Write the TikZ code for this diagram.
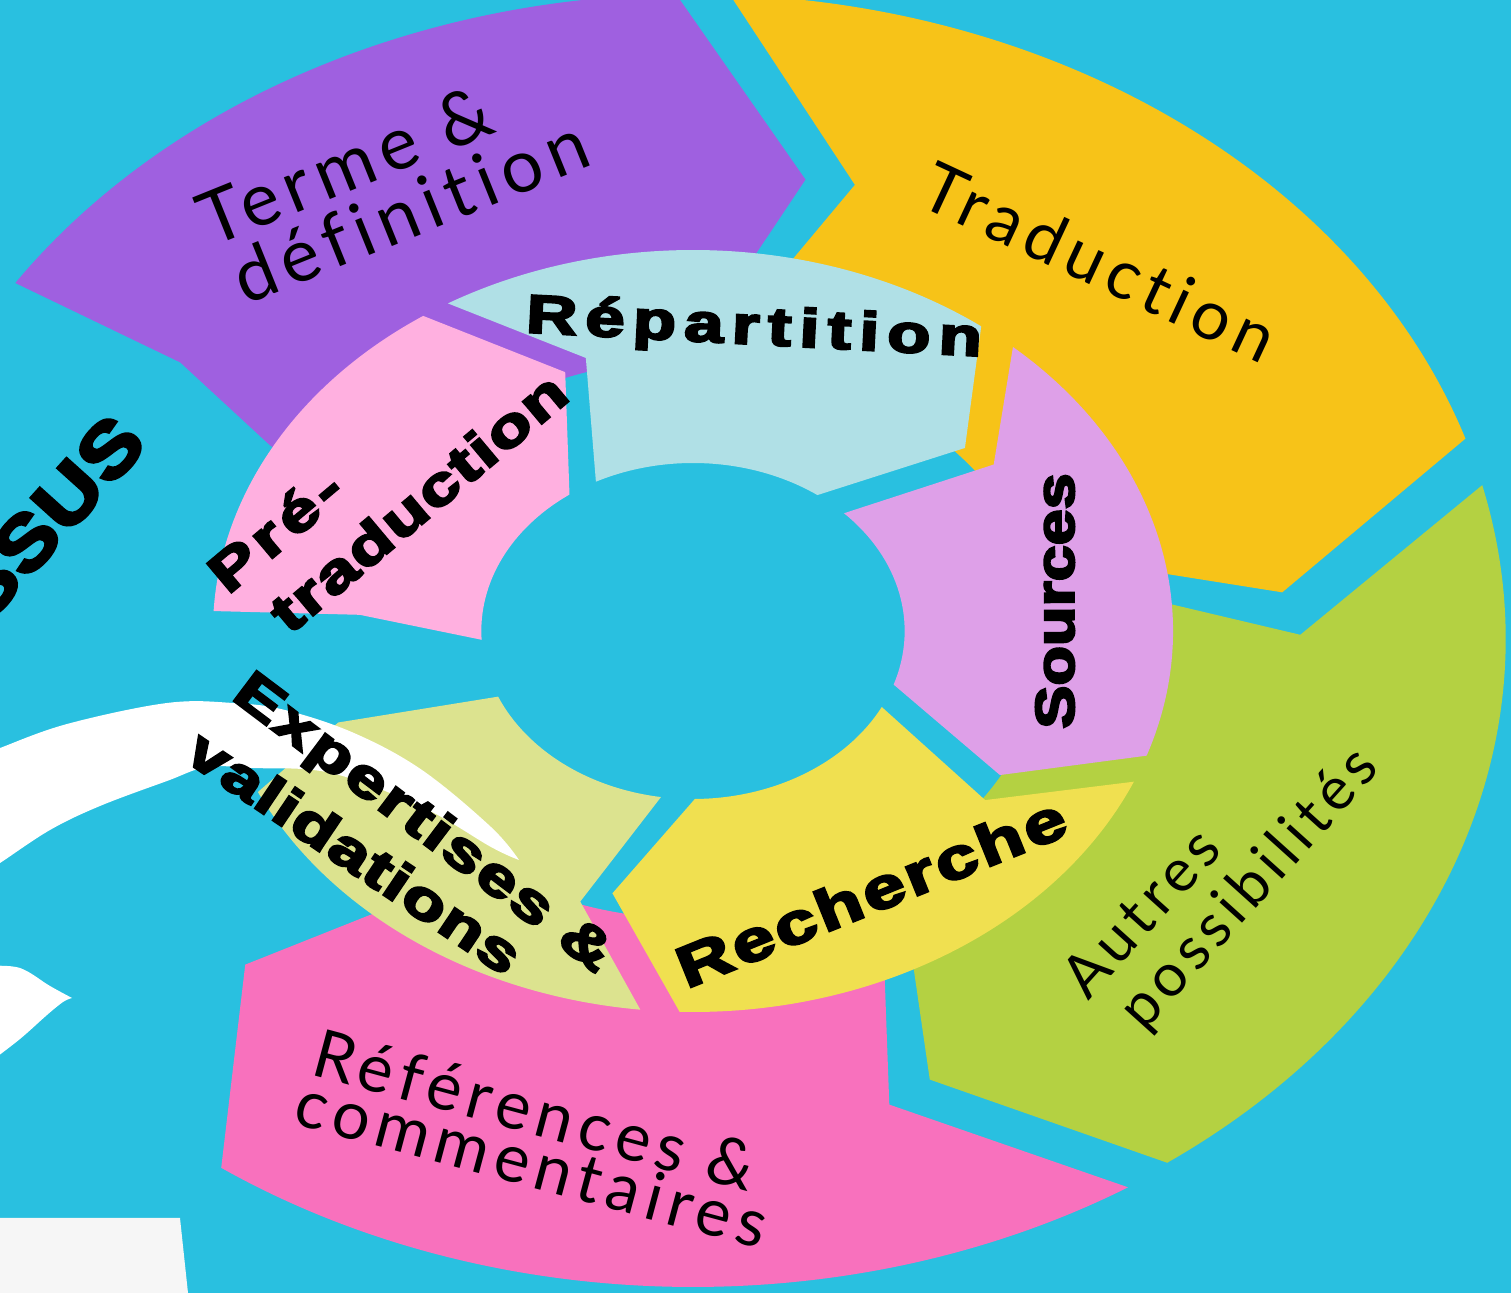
\documentclass[tikz,border=0pt]{standalone}
\usepackage{fontspec}
\usepackage{graphicx}
\newfontfamily\lightf{Lato}[Ligatures=NoCommon]
\newfontfamily\heavyf{Liberation Sans}[BoldFeatures={FakeBold=4}]
\newcommand\hvtext[4]{\scalebox{#3}[1]{\fontsize{#1}{#1}\heavyf\bfseries\addfontfeature{LetterSpace=#2}#4}}
\newcommand\lgtext[3]{{\fontsize{#1}{#1}\lightf\addfontfeature{LetterSpace=#2}#3}}
\definecolor{bgblue}{HTML}{29C0E0}
\definecolor{cpurple}{HTML}{9F60E0}
\definecolor{cyellow}{HTML}{F7C318}
\definecolor{cgreen}{HTML}{B4D142}
\definecolor{cpink}{HTML}{F871BD}
\definecolor{clblue}{HTML}{B0E0E6}
\definecolor{clav}{HTML}{DEA0E8}
\definecolor{cyel2}{HTML}{F0E050}
\definecolor{cpgreen}{HTML}{DCE38F}
\definecolor{clpink}{HTML}{FFB0E0}
\definecolor{cgrey}{HTML}{F6F6F6}
\begin{document}
\begin{tikzpicture}[x=0.01cm,y=0.01cm,
  lbl/.style={inner sep=0pt, text=black}]
\useasboundingbox (0,0) rectangle (1511,1293);
\fill[bgblue] (0,0) rectangle (1511,1293);
\begin{scope}
\clip (0,0) rectangle (1511,1293);
% ---------- outer ring ----------
\begin{scope}[shift={(693,654)}, xscale=1.26]
\fill[cpurple] (146.5:645) arc[start angle=146.5, end angle=91.2, radius=645] -- (79:468) -- (91.2:280) arc[start angle=91.2, end angle=155, radius=280] -- (150:388) -- (145.8:492) -- cycle;
\fill[cyellow] (87.4:645) arc[start angle=87.4, end angle=18.1, radius=645] -- (5.7:470) -- (18.1:280) arc[start angle=18.1, end angle=87.4, radius=280] -- (74.2:472) -- cycle;
\fill[cgreen] (13.8:645) arc[start angle=13.8, end angle=-54.3, radius=645] -- (-66.9:479) -- (-54.3:280) arc[start angle=-54.3, end angle=13.8, radius=280] -- (0.5:482) -- cycle;
\fill[cpink] (-57.8:648) arc[start angle=-57.8, end angle=-125.3, radius=648] -- (-137.5:482) -- (-125.3:280) arc[start angle=-125.3, end angle=-57.8, radius=280] -- (-71.5:491) -- cycle;
\end{scope}
% ---------- inner ring ----------
\begin{scope}[shift={(693,662)}, xscale=1.26]
\fill[clblue] (120.7:381) arc[start angle=120.7, end angle=53.1, radius=381] -- (40.3:283) -- (54:168) arc[start angle=54, end angle=117.3, radius=168] -- (107.3:286) -- cycle;
\fill[clav] (48.2:381) arc[start angle=48.2, end angle=-19.1, radius=381] -- (-30.6:283) -- (-18.6:168) arc[start angle=-18.6, end angle=44.5, radius=168] -- (34.9:291) -- cycle;
\fill[cyel2] (-23.3:381) arc[start angle=-23.3, end angle=-91.6, radius=381] -- (-103.7:270) -- (-89.5:168) arc[start angle=-89.5, end angle=-26.9, radius=168] -- (-36.1:287) -- cycle;
\fill[cpgreen] (-96.3:381) arc[start angle=-96.3, end angle=-155, radius=381] -- (-162:296) -- (-157:168) arc[start angle=-157, end angle=-98.7, radius=168] -- (-108.3:285) -- cycle;
\fill[clpink] (177:381) arc[start angle=177, end angle=124.2, radius=381] -- (111.4:278) -- (125.7:168) arc[start angle=125.7, end angle=183, radius=168] -- (176.5:265) -- cycle;
\end{scope}
% ---------- white shapes ----------
\fill[white] plot[smooth, tension=0.6] coordinates {(-10,541) (0,545) (67,569) (167,590) (233,590) (285,583) (354,560) (422,523) (491,466) (519,433)}
  -- plot[smooth, tension=0.6] coordinates {(519,433) (491,446) (422,486) (331,520) (253,525) (207,526) (167,512) (100,487) (50,463) (0,430) (-10,425)} -- cycle;
\fill[white] plot[smooth, tension=0.6] coordinates {(-10,327) (20,325) (50,307) (72,295)} -- plot[smooth, tension=0.6] coordinates {(72,295) (63,291) (47,278) (20,254) (-10,231)} -- cycle;
\fill[cgrey] (0,75) -- (180,75) -- (188,0) -- (0,0) -- cycle;
% ---------- labels ----------
\node[lbl, rotate=22] (terme) at (345,1128) {\lgtext{21}{10}{Terme \&}};
\node[lbl, rotate=22] (defin) at (410,1083) {\lgtext{21}{10}{définition}};
\node[lbl, rotate=-25] (trad) at (1100,1031) {\lgtext{19.5}{10}{Traduction}};
\node[lbl, rotate=48] (autres) at (1140,381) {\lgtext{17}{10}{Autres}};
\node[lbl, rotate=48] (possib) at (1250,403) {\lgtext{17}{10}{possibilités}};
\node[lbl, rotate=-15] (refer) at (535,183) {\lgtext{19}{10}{Références \&}};
\node[lbl, rotate=-15] (comm) at (532,130) {\lgtext{19}{10}{commentaires}};
\node[lbl, rotate=-3] (repart) at (754,963) {\hvtext{15.4}{12}{1.3}{Répartition}};
\node[lbl, rotate=90] (sources) at (1055,692) {\hvtext{15.6}{0}{1.18}{Sources}};
\node[lbl, rotate=22] (recher) at (871,401) {\hvtext{16.5}{4.7}{1.3}{Recherche}};
\node[lbl, rotate=-37] (expert) at (422,468) {\hvtext{15.6}{3.7}{1.3}{Expertises \&}};
\node[lbl, rotate=-34] (valid) at (355,441) {\hvtext{15.6}{2.3}{1.3}{validations}};
\node[lbl, rotate=40] (pre) at (275,763) {\hvtext{15.6}{8}{1.3}{Pré-}};
\node[lbl, rotate=40] (pretrad) at (418,791) {\hvtext{15.6}{3}{1.3}{traduction}};
\node[lbl, rotate=48, anchor=east] (ssus) at (130,866) {\hvtext{21.6}{2}{1.15}{SSUS}};
\end{scope}
\end{tikzpicture}
\end{document}
